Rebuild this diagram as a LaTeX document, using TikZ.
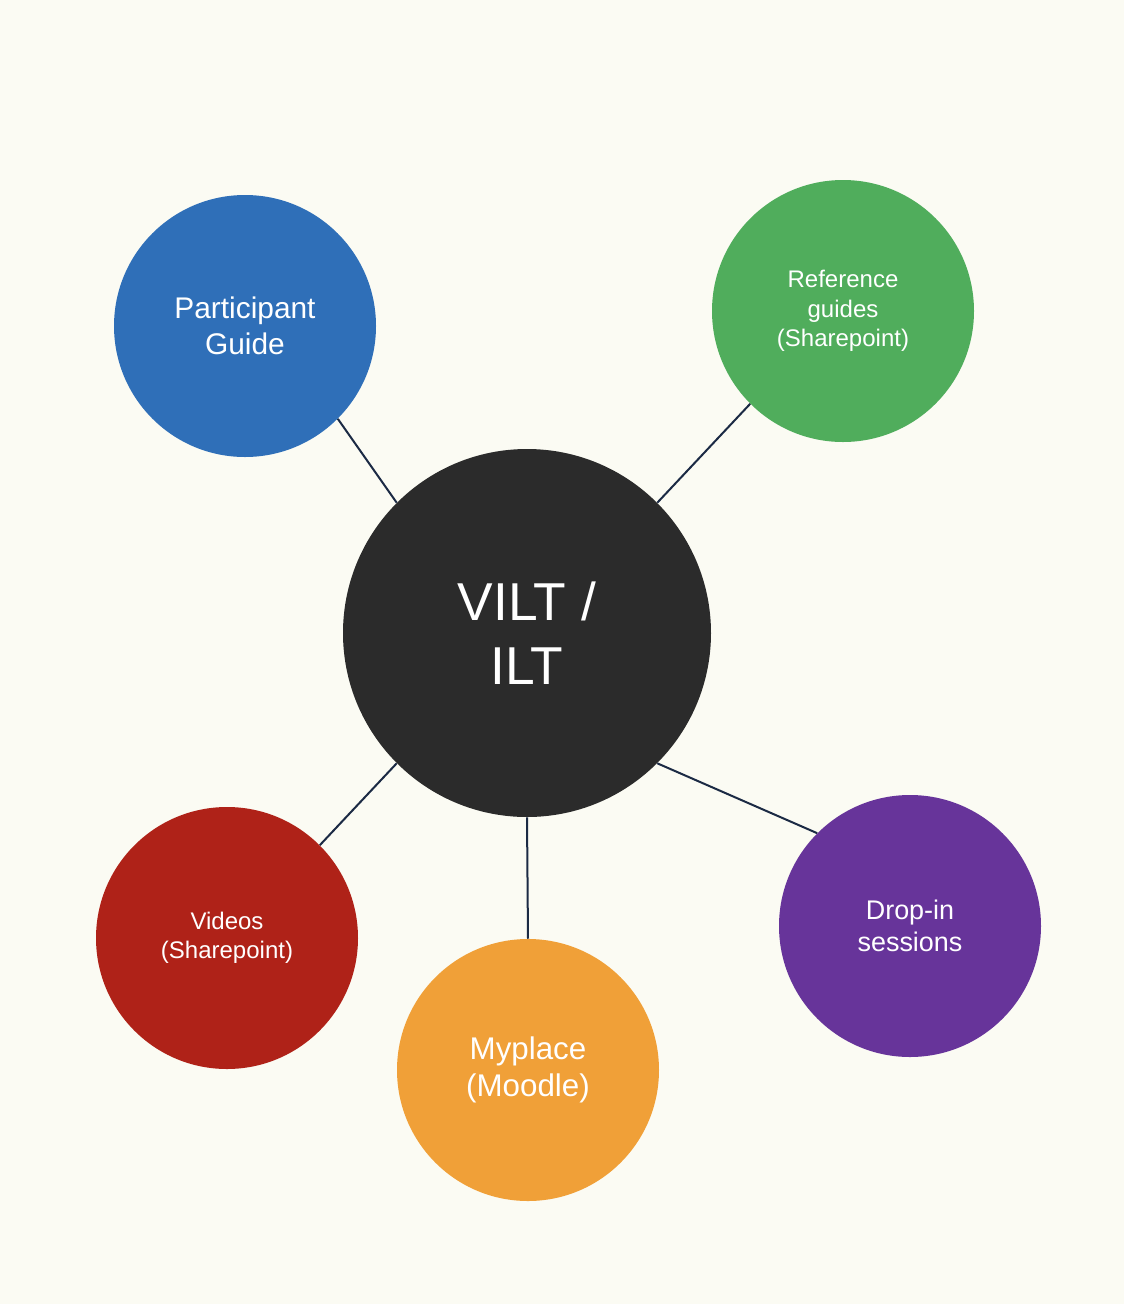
\documentclass[tikz,border=0pt]{standalone}
\usepackage{fontspec}
\setmainfont{Liberation Sans}
\definecolor{bgcream}{HTML}{FBFBF3}
\definecolor{hubgrey}{HTML}{2B2B2B}
\definecolor{guideblue}{HTML}{2F6FB8}
\definecolor{refgreen}{HTML}{50AD5C}
\definecolor{videored}{HTML}{AF2218}
\definecolor{moodleorange}{HTML}{F0A038}
\definecolor{droppurple}{HTML}{67349A}
\definecolor{linknavy}{HTML}{1B2A44}
\tikzset{
    bubble/.style={circle, inner sep=0pt, minimum size=196.5pt, text=white, align=center},
    link/.style={draw=linknavy, line width=1.5pt}
}
\begin{document}
\begin{tikzpicture}[x=0.75pt, y=-0.75pt]
    \fill[bgcream] (0,0) rectangle (1124,1304);
    \useasboundingbox (0,0) rectangle (1124,1304);
    % hub and spokes
    \node[bubble, fill=hubgrey, minimum size=276pt, font=\fontsize{40}{48}\selectfont] (vilt) at (527,633) {VILT /\\ILT};
    \node[bubble, fill=guideblue, font=\fontsize{22.4}{27}\selectfont] (guide) at (245,326) {Participant\\Guide};
    \node[bubble, fill=refgreen, font=\fontsize{18}{22}\selectfont] (refs) at (843,311) {Reference\\guides\\(Sharepoint)};
    \node[bubble, fill=videored, font=\fontsize{18}{22}\selectfont] (videos) at (227,938) {Videos\\(Sharepoint)};
    \node[bubble, fill=moodleorange, font=\fontsize{23.5}{28}\selectfont] (myplace) at (528,1070) {Myplace\\(Moodle)};
    \node[bubble, fill=droppurple, font=\fontsize{20.2}{24}\selectfont] (dropin) at (910,926) {Drop-in\\sessions};
    \draw[link] (vilt.135) -- (guide.-45);
    \draw[link] (vilt.45) -- (refs.225);
    \draw[link] (vilt.225) -- (videos.45);
    \draw[link] (vilt.south) -- (myplace.north);
    \draw[link] (vilt.-45) -- (dropin.135);
\end{tikzpicture}
\end{document}
